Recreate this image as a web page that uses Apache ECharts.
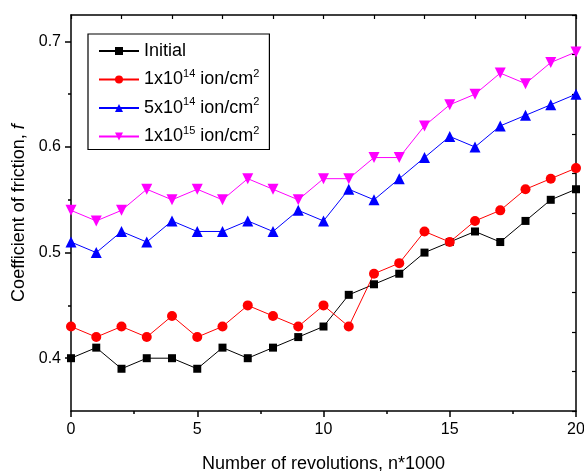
<!DOCTYPE html>
<html>
<head>
<meta charset="utf-8">
<script src="https://cdn.jsdelivr.net/npm/echarts@6/dist/echarts.min.js"></script>
<style>html,body{margin:0;padding:0;background:#fff}#c{width:584px;height:471px}</style>
</head>
<body>
<div id="c"></div>
<script>
const revolutions = [0,1,2,3,4,5,6,7,8,9,10,11,12,13,14,15,16,17,18,19,20];
const initial = [0.40,0.41,0.39,0.40,0.40,0.39,0.41,0.40,0.41,0.42,0.43,0.46,0.47,0.48,0.50,0.51,0.52,0.51,0.53,0.55,0.56];
const dose1e14 = [0.43,0.42,0.43,0.42,0.44,0.42,0.43,0.45,0.44,0.43,0.45,0.43,0.48,0.49,0.52,0.51,0.53,0.54,0.56,0.57,0.58];
const dose5e14 = [0.51,0.50,0.52,0.51,0.53,0.52,0.52,0.53,0.52,0.54,0.53,0.56,0.55,0.57,0.59,0.61,0.60,0.62,0.63,0.64,0.65];
const dose1e15 = [0.54,0.53,0.54,0.56,0.55,0.56,0.55,0.57,0.56,0.55,0.57,0.57,0.59,0.59,0.62,0.64,0.65,0.67,0.66,0.68,0.69];
const seriesNames = ['Initial','1x10^14 ion/cm^2','5x10^14 ion/cm^2','1x10^15 ion/cm^2'];
const yTickValues = [0.4,0.5,0.6,0.7];
const yMinorValues = [0.45,0.55,0.65];

const font = 'Liberation Sans, Arial, sans-serif';
const chart = echarts.init(document.getElementById('c'), null, {renderer:'canvas'});
function pts(arr){ return revolutions.map((x,i)=>[x,arr[i]]); }
function mk(name, data, color, symbol, size){
  return {name, type:'line', data:pts(data), xAxisIndex:0, yAxisIndex:0,
    symbol, symbolSize:size, showSymbol:true,
    lineStyle:{color, width:1}, itemStyle:{color}, animation:false};
}
const axisLineStyle = {show:true, onZero:false, lineStyle:{color:'#000', width:1.5}};
chart.setOption({
  animation:false,
  grid:{left:71, right:8, top:15, bottom:60, containLabel:false, outerBoundsMode:'none'},
  legend:{
    orient:'vertical', left:88, top:34, itemWidth:40, itemHeight:10, itemGap:8,
    borderColor:'#000', borderWidth:1.2, borderRadius:0, padding:[8,10,4,10],
    backgroundColor:'#fff',
    data:seriesNames,
    formatter:function(n){
      const m = n.match(/^(.*?)\^(\d+)(.*?)\^(\d+)$/);
      if(!m) return '{n|'+n+'}';
      return '{n|'+m[1]+'}{s|'+m[2]+'}{n|'+m[3]+'}{s|'+m[4]+'}';
    },
    textStyle:{fontFamily:font, color:'#000', fontSize:18,
      rich:{n:{fontFamily:font, fontSize:18, color:'#000'},
            s:{fontFamily:font, fontSize:11, color:'#000', padding:[0,0,12,0]}}}
  },
  xAxis:[
    {type:'value', min:0, max:20, interval:5, position:'bottom', offset:0,
     name:'Number of revolutions, n*1000', nameLocation:'middle', nameGap:44,
     nameTextStyle:{fontFamily:font, fontSize:18, color:'#000'},
     axisLine:axisLineStyle,
     axisTick:{show:true, inside:false, length:6, lineStyle:{color:'#000', width:1.5}},
     minorTick:{show:true, splitNumber:2, length:3, lineStyle:{color:'#000', width:1.5}},
     axisLabel:{fontFamily:font, fontSize:16, color:'#000', margin:11},
     splitLine:{show:false}},
    {type:'value', min:0, max:20, interval:2, position:'top', offset:0,
     axisLine:axisLineStyle,
     axisTick:{show:true, inside:true, length:4, lineStyle:{color:'#000', width:1.2}},
     axisLabel:{show:false}, splitLine:{show:false}}
  ],
  yAxis:[
    {type:'value', min:0.35, max:0.725, interval:0.05, position:'left', offset:0,
     name:'Coefficient of friction, {i|f}', nameLocation:'middle', nameGap:42,
     nameTextStyle:{fontFamily:font, fontSize:18, color:'#000',
       rich:{i:{fontFamily:font, fontSize:18, fontStyle:'italic', color:'#000'}}},
     axisLine:axisLineStyle,
     axisTick:{show:true, inside:false, length:6, customValues:yTickValues, lineStyle:{color:'#000', width:1.5}},
     axisLabel:{fontFamily:font, fontSize:16, color:'#000', margin:10, customValues:yTickValues,
       formatter:v=>v.toFixed(1)},
     splitLine:{show:false}},
    {type:'value', min:0.35, max:0.725, interval:0.05, position:'left', offset:0,
     axisLine:{show:false, onZero:false},
     axisTick:{show:true, inside:false, length:3, customValues:yMinorValues, lineStyle:{color:'#000', width:1.5}},
     axisLabel:{show:false}, splitLine:{show:false}},
    {type:'value', min:0, max:10, interval:1, position:'right', offset:0,
     axisLine:axisLineStyle,
     axisTick:{show:true, inside:true, length:4, lineStyle:{color:'#000', width:1.2}},
     axisLabel:{show:false}, splitLine:{show:false}}
  ],
  series:[
    mk(seriesNames[0], initial, '#000000', 'rect', 8),
    mk(seriesNames[1], dose1e14, '#ff0000', 'circle', 10),
    mk(seriesNames[2], dose5e14, '#0000ff', 'triangle', 11),
    mk(seriesNames[3], dose1e15, '#ff00ff', 'path://M0,0 L10,0 L5,9 Z', 11)
  ]
});
</script>
</body>
</html>
